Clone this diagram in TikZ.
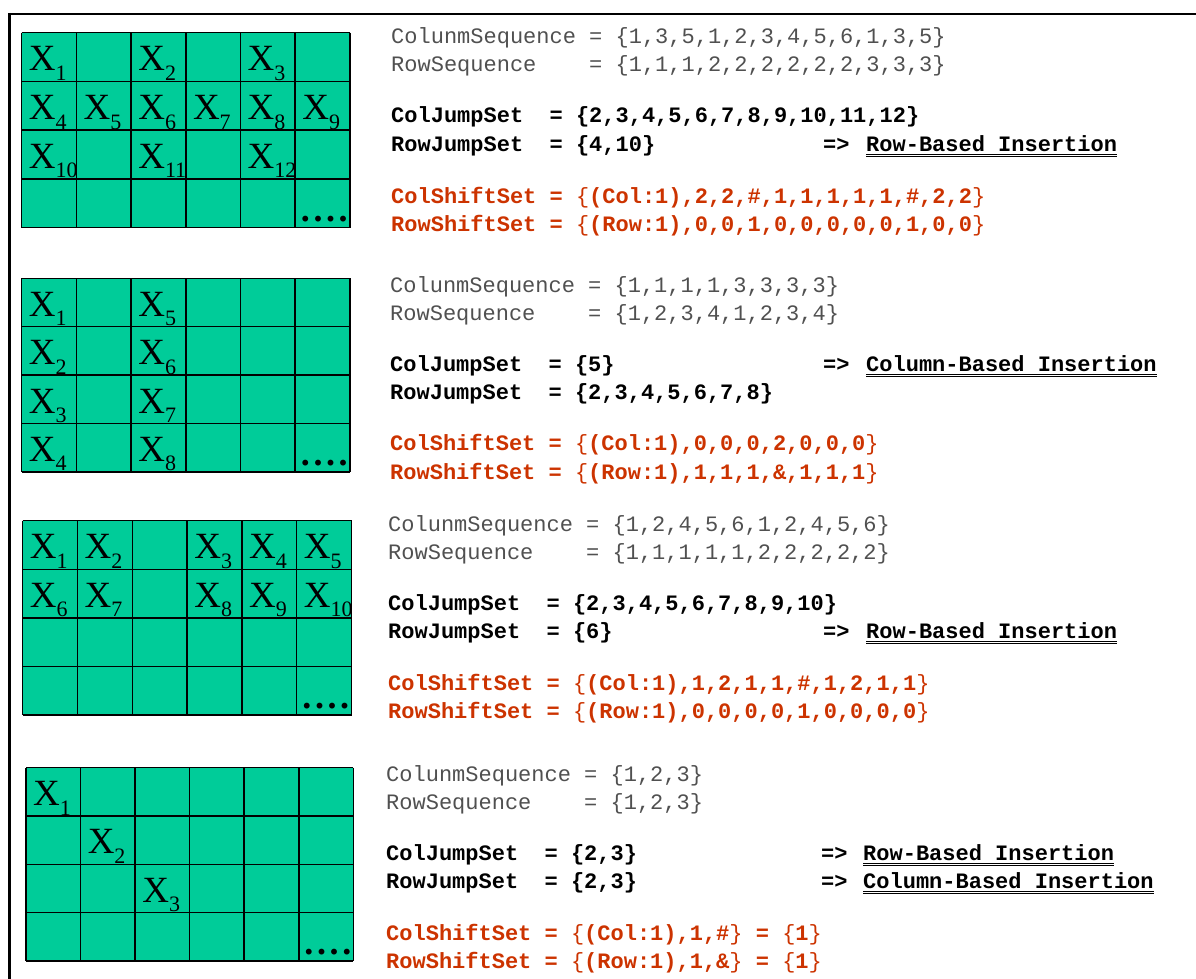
\documentclass[tikz,border=0pt]{standalone}
\usepackage{fontspec}
\setmainfont{Liberation Serif}
\newfontfamily\codefont{Liberation Mono}

\definecolor{cellgreen}{RGB}{0,204,153}
\definecolor{seqgray}{RGB}{80,80,80}
\definecolor{shiftred}{RGB}{204,51,0}

\newcommand{\elem}[1]{X\lower9.5pt\hbox{\fontsize{22}{22}\selectfont #1}}
\newcommand{\moredots}{.\kern3.6pt.\kern3.6pt.\kern3.6pt.}
\newcommand{\thinbr}[1]{{\mdseries#1}}

\tikzset{
  frameline/.style={line width=2.8pt},
  gridline/.style={line width=1.5pt},
  elemlabel/.style={anchor=base west, inner sep=0pt, xshift=7pt, yshift=10.5pt,
    font=\fontsize{37}{37}\selectfont},
  dotslabel/.style={anchor=base west, inner sep=0pt, xshift=5.5pt, yshift=6.5pt,
    font=\bfseries\fontsize{36}{36}\selectfont},
  codeline/.style={anchor=base west, inner sep=0pt, font=\codefont\fontsize{22}{22}\selectfont},
  seqline/.style={codeline, text=seqgray},
  jumpline/.style={codeline, font=\codefont\bfseries\fontsize{22}{22}\selectfont},
  shiftline/.style={jumpline, text=shiftred},
  underlinerule/.style={line width=1.3pt},
}

\begin{document}
\begin{tikzpicture}[x=1pt, y=-1pt]
\useasboundingbox (0,0) rectangle (1196,979);
\draw[frameline] (8,14) -- (1196,14);
\draw[frameline] (9.5,13) -- (9.5,979);

% panel 1: row-based
\begin{scope}[shift={(21.7pt,-32.7pt)}, x=54.7pt, y=-48.7pt]
  \fill[cellgreen] (0,0) rectangle (6,4);
  \foreach \c in {0,...,6} \draw[gridline] (\c,0) -- (\c,4);
  \foreach \r in {0,...,4} \draw[gridline] (0,\r) -- (6,\r);
  \foreach \c/\r/\n in {0/1/1, 2/1/2, 4/1/3, 0/2/4, 1/2/5, 2/2/6, 3/2/7, 4/2/8, 5/2/9,
      0/3/10, 2/3/11, 4/3/12}
    \node[elemlabel] (pa\n) at (\c,\r) {\elem{\n}};
  \node[dotslabel] (padots) at (5,4) {\moredots};
\end{scope}
\node[seqline] (pacolseq) at (391,44) {ColunmSequence = \{1,3,5,1,2,3,4,5,6,1,3,5\}};
\node[seqline] (parowseq) at (391,72) {RowSequence\ \ \ \ = \{1,1,1,2,2,2,2,2,2,3,3,3\}};
\node[jumpline] (pacoljump) at (391,123) {ColJumpSet\ \ = \{2,3,4,5,6,7,8,9,10,11,12\}};
\node[jumpline] (parowjump) at (391,151) {RowJumpSet\ \ = \{4,10\}};
\node[jumpline] (paarrow) at (823,151) {=>};
\node[jumpline] (pains) at (866,151) {Row-Based Insertion};
\node[shiftline] (pacolshift) at (391,203) {ColShiftSet = \thinbr{\{}(Col:1),2,2,\#,1,1,1,1,1,\#,2,2\thinbr{\}}};
\node[shiftline] (parowshift) at (391,231) {RowShiftSet = \thinbr{\{}(Row:1),0,0,1,0,0,0,0,0,1,0,0\thinbr{\}}};
\draw[underlinerule] ([yshift=-3.5pt]pains.base west) -- ([yshift=-3.5pt]pains.base east);
\draw[underlinerule] ([yshift=-5.8pt]pains.base west) -- ([yshift=-5.8pt]pains.base east);

% panel 2: column-based
\begin{scope}[shift={(21.7pt,-278.3pt)}, x=54.7pt, y=-48.4pt]
  \fill[cellgreen] (0,0) rectangle (6,4);
  \foreach \c in {0,...,6} \draw[gridline] (\c,0) -- (\c,4);
  \foreach \r in {0,...,4} \draw[gridline] (0,\r) -- (6,\r);
  \foreach \c/\r/\n in {0/1/1, 0/2/2, 0/3/3, 0/4/4, 2/1/5, 2/2/6, 2/3/7, 2/4/8}
    \node[elemlabel] (pb\n) at (\c,\r) {\elem{\n}};
  \node[dotslabel] (pbdots) at (5,4) {\moredots};
\end{scope}
\node[seqline] (pbcolseq) at (390,292) {ColunmSequence = \{1,1,1,1,3,3,3,3\}};
\node[seqline] (pbrowseq) at (390,320) {RowSequence\ \ \ \ = \{1,2,3,4,1,2,3,4\}};
\node[jumpline] (pbcoljump) at (390,371) {ColJumpSet\ \ = \{5\}};
\node[jumpline] (pbarrow) at (823,371) {=>};
\node[jumpline] (pbins) at (866,371) {Column-Based Insertion};
\node[jumpline] (pbrowjump) at (390,399) {RowJumpSet\ \ = \{2,3,4,5,6,7,8\}};
\node[shiftline] (pbcolshift) at (390,450) {ColShiftSet = \thinbr{\{}(Col:1),0,0,0,2,0,0,0\thinbr{\}}};
\node[shiftline] (pbrowshift) at (390,479) {RowShiftSet = \thinbr{\{}(Row:1),1,1,1,\&,1,1,1\thinbr{\}}};
\draw[underlinerule] ([yshift=-3.5pt]pbins.base west) -- ([yshift=-3.5pt]pbins.base east);
\draw[underlinerule] ([yshift=-5.8pt]pbins.base west) -- ([yshift=-5.8pt]pbins.base east);

% panel 3: row-based
\begin{scope}[shift={(22.7pt,-520.7pt)}, x=54.8pt, y=-48.6pt]
  \fill[cellgreen] (0,0) rectangle (6,4);
  \foreach \c in {0,...,6} \draw[gridline] (\c,0) -- (\c,4);
  \foreach \r in {0,...,4} \draw[gridline] (0,\r) -- (6,\r);
  \foreach \c/\r/\n in {0/1/1, 1/1/2, 3/1/3, 4/1/4, 5/1/5, 0/2/6, 1/2/7, 3/2/8, 4/2/9, 5/2/10}
    \node[elemlabel] (pc\n) at (\c,\r) {\elem{\n}};
  \node[dotslabel] (pcdots) at (5,4) {\moredots};
\end{scope}
\node[seqline] (pccolseq) at (388,531) {ColunmSequence = \{1,2,4,5,6,1,2,4,5,6\}};
\node[seqline] (pcrowseq) at (388,559) {RowSequence\ \ \ \ = \{1,1,1,1,1,2,2,2,2,2\}};
\node[jumpline] (pccoljump) at (388,610) {ColJumpSet\ \ = \{2,3,4,5,6,7,8,9,10\}};
\node[jumpline] (pcrowjump) at (388,638) {RowJumpSet\ \ = \{6\}};
\node[jumpline] (pcarrow) at (823,638) {=>};
\node[jumpline] (pcins) at (866,638) {Row-Based Insertion};
\node[shiftline] (pccolshift) at (388,690) {ColShiftSet = \thinbr{\{}(Col:1),1,2,1,1,\#,1,2,1,1\thinbr{\}}};
\node[shiftline] (pcrowshift) at (388,718) {RowShiftSet = \thinbr{\{}(Row:1),0,0,0,0,1,0,0,0,0\thinbr{\}}};
\draw[underlinerule] ([yshift=-3.5pt]pcins.base west) -- ([yshift=-3.5pt]pcins.base east);
\draw[underlinerule] ([yshift=-5.8pt]pcins.base west) -- ([yshift=-5.8pt]pcins.base east);

% panel 4: both
\begin{scope}[shift={(26pt,-767.7pt)}, x=54.55pt, y=-48.3pt]
  \fill[cellgreen] (0,0) rectangle (6,4);
  \foreach \c in {0,...,6} \draw[gridline] (\c,0) -- (\c,4);
  \foreach \r in {0,...,4} \draw[gridline] (0,\r) -- (6,\r);
  \foreach \c/\r/\n in {0/1/1, 1/2/2, 2/3/3}
    \node[elemlabel] (pd\n) at (\c,\r) {\elem{\n}};
  \node[dotslabel] (pddots) at (5,4) {\moredots};
\end{scope}
\node[seqline] (pdcolseq) at (386,781) {ColunmSequence = \{1,2,3\}};
\node[seqline] (pdrowseq) at (386,809) {RowSequence\ \ \ \ = \{1,2,3\}};
\node[jumpline] (pdcoljump) at (386,860) {ColJumpSet\ \ = \{2,3\}};
\node[jumpline] (pdarrowa) at (821,860) {=>};
\node[jumpline] (pdinsa) at (863,860) {Row-Based Insertion};
\node[jumpline] (pdrowjump) at (386,888) {RowJumpSet\ \ = \{2,3\}};
\node[jumpline] (pdarrowb) at (821,888) {=>};
\node[jumpline] (pdinsb) at (863,888) {Column-Based Insertion};
\node[shiftline] (pdcolshift) at (386,940) {ColShiftSet = \thinbr{\{}(Col:1),1,\#\thinbr{\}} = \thinbr{\{}1\thinbr{\}}};
\node[shiftline] (pdrowshift) at (386,968) {RowShiftSet = \thinbr{\{}(Row:1),1,\&\thinbr{\}} = \thinbr{\{}1\thinbr{\}}};
\draw[underlinerule] ([yshift=-3.5pt]pdinsa.base west) -- ([yshift=-3.5pt]pdinsa.base east);
\draw[underlinerule] ([yshift=-5.8pt]pdinsa.base west) -- ([yshift=-5.8pt]pdinsa.base east);
\draw[underlinerule] ([yshift=-3.5pt]pdinsb.base west) -- ([yshift=-3.5pt]pdinsb.base east);
\draw[underlinerule] ([yshift=-5.8pt]pdinsb.base west) -- ([yshift=-5.8pt]pdinsb.base east);
\end{tikzpicture}
\end{document}
